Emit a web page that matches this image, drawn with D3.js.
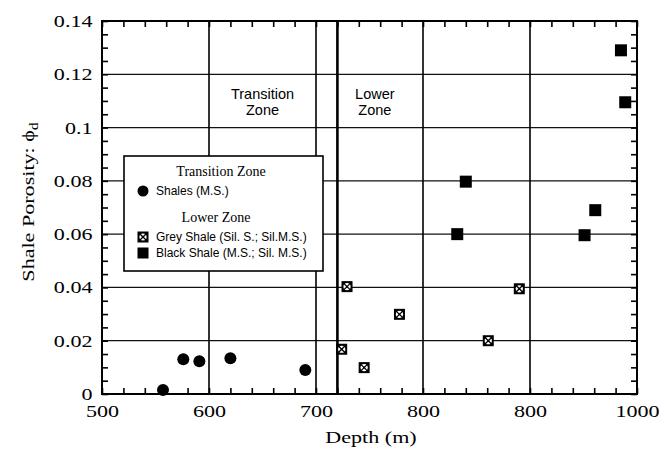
<!DOCTYPE html>
<html>
<head>
<meta charset="utf-8">
<script src="https://cdn.jsdelivr.net/npm/d3@7"></script>
<style>
  body { margin: 0; background: #fff; }
  svg text { fill: #000; }
</style>
</head>
<body>
<div id="chart"></div>
<script>
// data
const shalesDepth = [557, 576, 591, 620, 690];
const shalesPor = [0.0015, 0.013, 0.0123, 0.0134, 0.009];

const greyDepth = [729, 778, 724, 745, 890, 861];
const greyPor = [0.0403, 0.0299, 0.0168, 0.0099, 0.0395, 0.020];

const blackDepth = [985, 989, 840, 832, 951, 961];
const blackPor = [0.129, 0.1095, 0.0797, 0.060, 0.0596, 0.069];

const xTicks = [500, 600, 700, 800, 900, 1000];
const xTickLabels = ["500", "600", "700", "800", "800", "1000"];
const yTicks = [0, 0.02, 0.04, 0.06, 0.08, 0.1, 0.12, 0.14];
const yTickLabels = ["0", "0.02", "0.04", "0.06", "0.08", "0.1", "0.12", "0.14"];
const zoneBoundary = 720;

const width = 662, height = 454;
const margin = { top: 21, left: 102, bottom: 60, right: 25 };
const iwidth = width - margin.left - margin.right;
const iheight = height - margin.top - margin.bottom;

const svg = d3.select("#chart").append("svg")
  .attr("width", width).attr("height", height);
const g = svg.append("g").attr("transform", `translate(${margin.left},${margin.top})`);

const x = d3.scaleLinear().domain([500, 1000]).range([0, iwidth]);
const y = d3.scaleLinear().domain([0, 0.14]).range([iheight, 0]);

const serif = "'Liberation Serif', 'Times New Roman', serif";
const sans = "'Liberation Sans', Arial, sans-serif";
const stretch = 1.3; // the scanned serif text is wide

// grid
g.selectAll(".hgrid").data(yTicks.slice(1, -1)).enter().append("line")
  .attr("x1", 0).attr("x2", iwidth)
  .attr("y1", d => y(d)).attr("y2", d => y(d))
  .attr("stroke", "#111").attr("stroke-width", 1.2);
g.selectAll(".vgrid").data(xTicks.slice(1, -1)).enter().append("line")
  .attr("x1", d => x(d)).attr("x2", d => x(d))
  .attr("y1", 0).attr("y2", iheight)
  .attr("stroke", "#000").attr("stroke-width", 1.6);
g.append("line")
  .attr("x1", x(zoneBoundary)).attr("x2", x(zoneBoundary))
  .attr("y1", 0).attr("y2", iheight)
  .attr("stroke", "#000").attr("stroke-width", 2.6);

// axes with inward ticks
const xMinor = d3.range(500, 1001, 20);
const yMinor = d3.range(0, 0.1401, 0.005);
function styleAxis(sel) {
  sel.select(".domain").remove();
  sel.selectAll("line").attr("stroke", "#000").attr("stroke-width", 1.6);
}
g.append("g").attr("transform", `translate(0,${iheight})`)
  .call(d3.axisBottom(x).tickValues(xMinor).tickSize(-6).tickFormat("")).call(styleAxis);
g.append("g")
  .call(d3.axisTop(x).tickValues(xMinor).tickSize(-6).tickFormat("")).call(styleAxis);
g.append("g")
  .call(d3.axisLeft(y).tickValues(yMinor).tickSize(-6).tickFormat("")).call(styleAxis);
g.append("g").attr("transform", `translate(${iwidth},0)`)
  .call(d3.axisRight(y).tickValues(yMinor).tickSize(-6).tickFormat("")).call(styleAxis);

// tick labels
const xLab = g.append("g").attr("transform", `translate(0,${iheight})`)
  .call(d3.axisBottom(x).tickValues(xTicks).tickSize(0).tickPadding(11)
    .tickFormat((d, i) => xTickLabels[i]));
xLab.select(".domain").remove();
xLab.selectAll("text").attr("font-family", serif).attr("font-size", 17)
  .attr("transform", `scale(${stretch},1)`);

const yLab = g.append("g")
  .call(d3.axisLeft(y).tickValues(yTicks).tickSize(0).tickPadding(9)
    .tickFormat((d, i) => yTickLabels[i]));
yLab.select(".domain").remove();
yLab.selectAll("text").attr("font-family", serif).attr("font-size", 17)
  .attr("x", -9.5 / stretch).attr("transform", `scale(${stretch},1)`);

g.append("rect").attr("width", iwidth).attr("height", iheight)
  .attr("fill", "none").attr("stroke", "#000").attr("stroke-width", 2);

// axis titles
svg.append("text").attr("transform", `translate(371,443) scale(${stretch},1)`)
  .attr("text-anchor", "middle")
  .attr("font-family", serif).attr("font-size", 17).text("Depth (m)");
const yt = svg.append("text").attr("transform", `translate(34,202) rotate(-90) scale(${stretch},1)`)
  .attr("text-anchor", "middle").attr("font-family", serif).attr("font-size", 17);
yt.append("tspan").text("Shale Porosity: ϕ");
yt.append("tspan").attr("font-size", 12).attr("dy", 4).text("d");

// zone captions
const zones = [
  { name: ["Transition", "Zone"], cx: 650 },
  { name: ["Lower", "Zone"], cx: 755 }
];
zones.forEach(z => {
  const t = g.append("text").attr("text-anchor", "middle")
    .attr("font-family", sans).attr("font-size", 14.5);
  z.name.forEach((s, i) => t.append("tspan").attr("x", x(z.cx)).attr("y", 78 + i * 15.5).text(s));
});

// markers
function greySym(sel) {
  sel.append("rect").attr("x", -5.5).attr("y", -5.5).attr("width", 11).attr("height", 11).attr("fill", "#000");
  sel.append("circle").attr("r", 3.6).attr("fill", "#fff");
  sel.append("path").attr("d", "M-4,-4L4,4M-4,4L4,-4").attr("stroke", "#000").attr("stroke-width", 1.3);
  sel.append("circle").attr("r", 1).attr("fill", "#000");
}
function blackSym(sel) {
  sel.append("rect").attr("x", -6).attr("y", -6).attr("width", 12).attr("height", 12).attr("fill", "#000");
}

g.selectAll(".shale").data(shalesDepth).enter().append("circle")
  .attr("cx", d => x(d)).attr("cy", (d, i) => y(shalesPor[i])).attr("r", 6).attr("fill", "#000");
g.selectAll(".grey").data(greyDepth).enter().append("g")
  .attr("transform", (d, i) => `translate(${x(d)},${y(greyPor[i])})`).call(greySym);
g.selectAll(".black").data(blackDepth).enter().append("g")
  .attr("transform", (d, i) => `translate(${x(d)},${y(blackPor[i])})`).call(blackSym);

// legend
const lg = svg.append("g").attr("transform", "translate(124,156)");
lg.append("rect").attr("width", 199).attr("height", 115)
  .attr("fill", "#fff").attr("stroke", "#000").attr("stroke-width", 1.6);
lg.append("text").attr("x", 97).attr("y", 20).attr("text-anchor", "middle")
  .attr("font-family", serif).attr("font-size", 14).text("Transition Zone");
lg.append("circle").attr("cx", 19).attr("cy", 35).attr("r", 5.5).attr("fill", "#000");
lg.append("text").attr("x", 32).attr("y", 39).attr("font-family", sans).attr("font-size", 12).text("Shales (M.S.)");
lg.append("text").attr("x", 92).attr("y", 66).attr("text-anchor", "middle")
  .attr("font-family", serif).attr("font-size", 14).text("Lower Zone");
lg.append("g").attr("transform", "translate(19,81)").call(greySym);
lg.append("text").attr("x", 32).attr("y", 85).attr("font-family", sans).attr("font-size", 12).text("Grey Shale (Sil. S.; Sil.M.S.)");
lg.append("g").attr("transform", "translate(19,97)").call(sel => sel.append("rect")
  .attr("x", -5.5).attr("y", -5.5).attr("width", 11).attr("height", 11).attr("fill", "#000"));
lg.append("text").attr("x", 32).attr("y", 101).attr("font-family", sans).attr("font-size", 12).text("Black Shale (M.S.; Sil. M.S.)");
</script>
</body>
</html>
